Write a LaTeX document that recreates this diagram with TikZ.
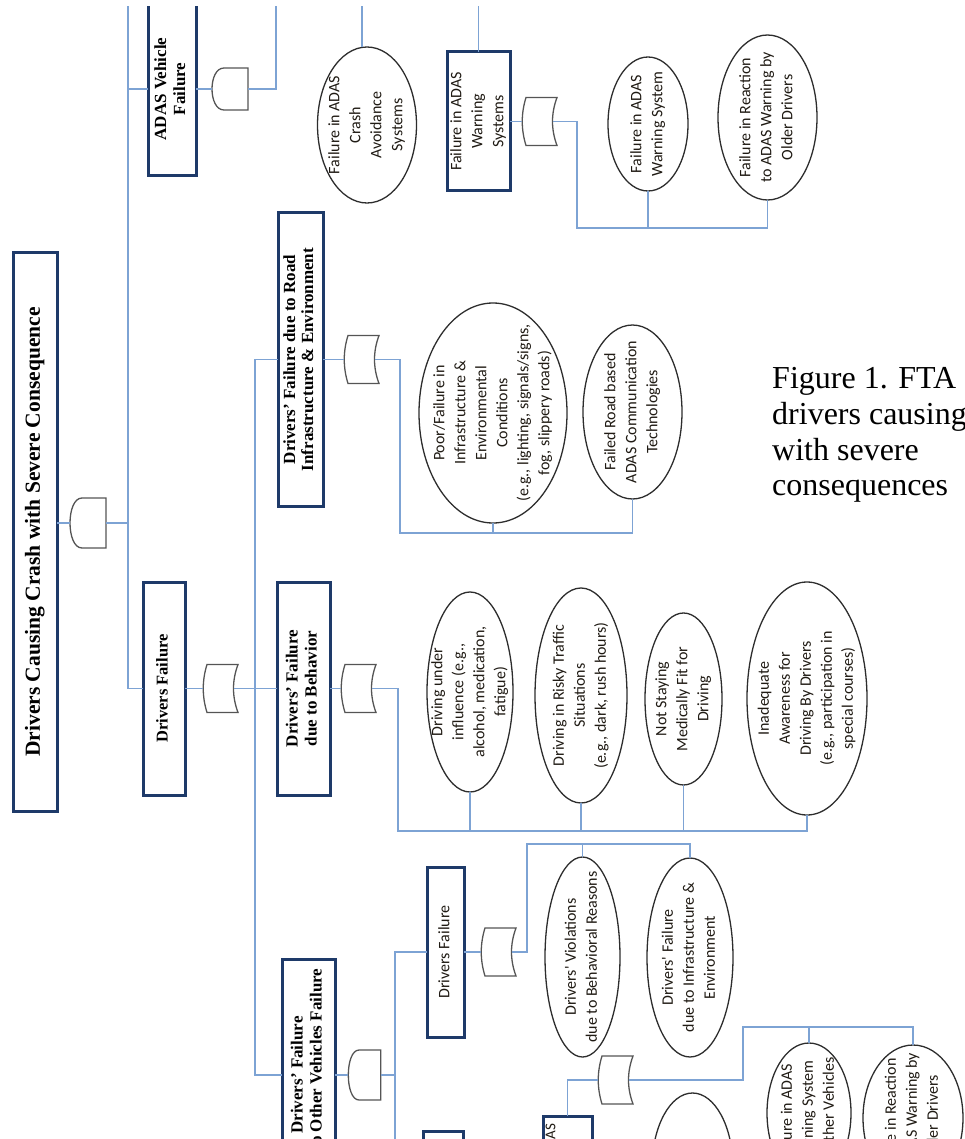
\documentclass[tikz,border=0pt]{standalone}
\usepackage{fontspec}
\setmainfont{Liberation Serif}
\newfontfamily\carl{Carlito}
\usetikzlibrary{shapes.geometric}
\definecolor{conncol}{RGB}{125,163,212}
\definecolor{boxcol}{RGB}{30,58,105}
\definecolor{ellcol}{RGB}{45,45,45}
\definecolor{gatecol}{RGB}{85,85,85}
\definecolor{txtcol}{RGB}{32,27,20}
\newcommand\mtxt[1]{\raisebox{-0.25em}[0pt][0pt]{\makebox[0pt]{\begin{tabular}{@{}c@{}}#1\end{tabular}}}}
\tikzset{
 conn/.style={draw=conncol, line width=1.5pt},
 dims/.style 2 args={minimum height=#1, minimum width=#2},
 fbox/.style={rectangle, draw=boxcol, line width=3pt, fill=white, rotate=90, inner sep=0pt, outer sep=0pt},
 serbox/.style={fbox, font=\bfseries\fontsize{17}{19}\selectfont},
 sanbox/.style={fbox, font=\carl\fontsize{16}{21}\selectfont, text=txtcol},
 ell/.style={ellipse, draw=ellcol, line width=1.3pt, fill=white, rotate=90, inner sep=0pt, outer sep=0pt, font=\carl\fontsize{16}{21}\selectfont, text=txtcol},
 gatestyle/.style={draw=gatecol, line width=1.3pt, fill=white},
 andgate/.pic={
   \path[gatestyle] (18,-25) -- (-6,-25) .. controls (-22,-25) and (-22,25) .. (-6,25) -- (18,25) -- cycle;
   \coordinate (-l) at (-18,0);
   \coordinate (-r) at (18,0);
 },
 orgate/.pic={
   \path[gatestyle] (-14,-24) -- (17,-24) .. controls (11,-8) and (11,8) .. (17,24) -- (-14,24) .. controls (-19,8) and (-19,-8) .. (-14,-24) -- cycle;
   \coordinate (-l) at (-17.75,0);
   \coordinate (-r) at (12.5,0);
 },
 captext/.style={anchor=base west, inner sep=0pt, font=\fontsize{32}{36}\selectfont},
}
\begin{document}
\begin{tikzpicture}[x=1pt,y=-1pt]
\useasboundingbox (0,0) rectangle (965,1139);
\clip (0,7) rectangle (965,1139);
% boxes
\node[serbox, dims={44}{558}, font=\bfseries\fontsize{21.5}{24}\selectfont] (T) at (35,532) {\mtxt{Drivers Causing Crash with Severe Consequence}};
\node[serbox, dims={48}{174}] (AV) at (172,89) {\mtxt{ADAS Vehicle\\Failure}};
\node[serbox, dims={42}{213}, font=\bfseries\fontsize{16.5}{19}\selectfont] (DF) at (164,688.5) {\mtxt{Drivers Failure}};
\node[serbox, dims={45}{293}, font=\bfseries\fontsize{17}{18}\selectfont] (RI) at (300.5,359.5) {\mtxt{Drivers' Failure due to Road\\Infrastructure \& Environment}};
\node[serbox, dims={53}{213}] (BH) at (303.5,688.5) {\mtxt{Drivers' Failure\\due to Behavior}};
\node[serbox, dims={53}{232}] (OV) at (308.5,1075) {\mtxt{Drivers' Failure\\due to Other Vehicles Failure}};
\node[sanbox, dims={37}{170}] (DF2) at (445.5,952) {\mtxt{Drivers Failure}};
\node[sanbox, dims={63}{139}] (WS) at (478.5,121.5) {\mtxt{Failure in ADAS\\Warning\\Systems}};
\node[serbox, dims={40}{200}] (B2) at (443,1231) {};
\node[sanbox, dims={49}{108}, font=\carl\fontsize{15}{15.5}\selectfont] (WS2) at (567.5,1170) {\mtxt{Failure in ADAS\\Warning\\Systems}};
% ellipses
\node[ell, dims={99}{156}] (E1) at (367,125) {\mtxt{Failure in ADAS\\Crash\\Avoidance\\Systems}};
\node[ell, dims={80}{134}] (E2) at (648,124) {\mtxt{Failure in ADAS\\Warning System}};
\node[ell, dims={99}{165}] (E3) at (767.5,117.5) {\mtxt{Failure in Reaction\\to ADAS Warning by\\Older Drivers}};
\node[ell, dims={148}{220}] (E4) at (493,413) {\mtxt{Poor/Failure in\\Infrastructure \&\\Environmental\\Conditions\\(e.g., lighting, signals/signs,\\fog, slippery roads)}};
\node[ell, dims={99}{174}] (E5) at (632.5,412) {\mtxt{Failed Road based\\ADAS Communication\\Technologies}};
\node[ell, dims={86}{200}] (E6) at (470,692) {\mtxt{Driving under\\influence (e.g.,\\alcohol, medication,\\fatigue)}};
\node[ell, dims={92}{215}] (E7) at (581,695.5) {\mtxt{Driving in Risky Traffic\\Situations\\(e.g., dark, rush hours)}};
\node[ell, dims={77}{172}] (E8) at (683.5,699) {\mtxt{Not Staying\\Medically Fit for\\Driving}};
\node[ell, dims={120}{233}] (E9) at (807,698.5) {\mtxt{Inadequate\\Awareness for\\Driving By Drivers\\(e.g., participation in\\special courses)}};
\node[ell, dims={75}{200}] (E10) at (582.5,957) {\mtxt{Drivers' Violations\\due to Behavioral Reasons}};
\node[ell, dims={86}{199}] (E11) at (690,957.5) {\mtxt{Drivers' Failure\\due to Infrastructure \&\\Environment}};
\node[ell, dims={84}{140}] (E12) at (809,1113) {\mtxt{Failure in ADAS\\Warning System\\of Other Vehicles}};
\node[ell, dims={100}{146}] (E13) at (913,1118) {\mtxt{Failure in Reaction\\to ADAS Warning by\\Older Drivers}};
\node[ell, dims={81}{150}] (E14) at (692.5,1168) {};
% gates
\pic (G0) at (88,523) {andgate};
\pic[yscale=0.84] (G1) at (230,89) {andgate};
\pic (G2) at (540,121.5) {orgate};
\pic (G3) at (221,688.5) {orgate};
\pic (G4) at (362,359.5) {orgate};
\pic (G5) at (359,688.5) {orgate};
\pic[xscale=0.9] (G6) at (364.5,1075) {andgate};
\pic (G7) at (499,952) {orgate};
\pic (G8) at (616,1080) {orgate};
% caption
\node[captext] (c1) at (772,388) {Figure 1. FTA of};
\node[captext] (c2) at (772,424) {drivers causing crash};
\node[captext] (c3) at (772,460) {with severe};
\node[captext] (c4) at (772,495) {consequences};
% connectors
\coordinate (topY) at (0,-20);
\coordinate (botY) at (0,1170);
\coordinate (b1) at (128,-20);
\draw[conn] (G0-l) -- (G0-l -| T.south);
\draw[conn] (G0-r) -- (G0-r -| b1);
\draw[conn] (b1) |- (DF.north);
\draw[conn] (AV.north -| b1) -- (AV.north);
\draw[conn] (AV.south) -- (G1-l);
\coordinate (b2) at (276,-20);
\draw[conn] (G1-r) -| (b2);
\draw[conn] ([xshift=-5pt]E1.east) -- ([xshift=-5pt]E1.east |- topY);
\draw[conn] (WS.east) -- (WS.east |- topY);
\draw[conn] (WS.south) -- (G2-l);
\coordinate (j2) at (577,228);
\draw[conn] (G2-r) -| (j2) -| (E3.west);
\draw[conn] (E2.west) -- (E2.west |- j2);
\draw[conn] (DF.south) -- (G3-l);
\draw[conn] (G3-r) -- (BH.north);
\coordinate (b4) at (255,0);
\draw[conn] (RI.north) -- (RI.north -| b4) -- (OV.north -| b4) -- (OV.north);
\draw[conn] (RI.south) -- (G4-l);
\coordinate (j4) at (400,533);
\draw[conn] (G4-r) -| (j4) -| (E5.west);
\draw[conn] (E4.west) -- (E4.west |- j4);
\draw[conn] (BH.south) -- (G5-l);
\coordinate (j5) at (398,831);
\draw[conn] (G5-r) -| (j5) -| (E9.west);
\draw[conn] (E6.west) -- (E6.west |- j5);
\draw[conn] (E7.west) -- (E7.west |- j5);
\draw[conn] (E8.west) -- (E8.west |- j5);
\draw[conn] (OV.south) -- (G6-l);
\coordinate (b6) at (395,0);
\draw[conn] (G6-r) -- (G6-r -| b6);
\draw[conn] (DF2.north) -| (b6 |- botY);
\draw[conn] (DF2.south) -- (G7-l);
\coordinate (j7) at (527,844);
\draw[conn] (G7-r) -| (j7) -| (E11.east);
\draw[conn] (E10.east) -- (E10.east |- j7);
\draw[conn] (WS2.east) |- (G8-l);
\coordinate (j8) at (743,1027);
\draw[conn] (G8-r) -| (j8) -| (E13.east);
\draw[conn] (E12.east) -- (E12.east |- j8);
\end{tikzpicture}
\end{document}
